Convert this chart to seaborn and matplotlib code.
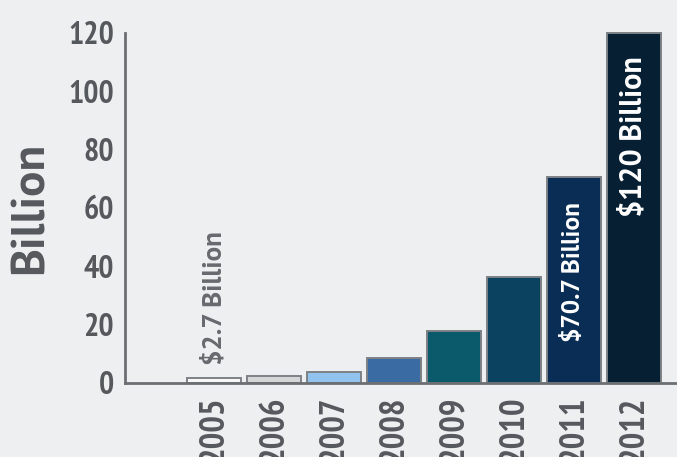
import matplotlib
matplotlib.use("Agg")
import matplotlib.pyplot as plt
import seaborn as sns
import pandas as pd

years = ["2005", "2006", "2007", "2008", "2009", "2010", "2011", "2012"]
values = [1.6, 2.5, 3.6, 8.5, 17.9, 36.3, 70.7, 120]
bar_colors = ["#f7f7f7", "#d4d6d8", "#92c2ee", "#3a6ba3", "#0b5a6c",
              "#0b4260", "#0a2d55", "#061f33"]
yticks = [0, 20, 40, 60, 80, 100, 120]
annotations = {"2005": "$2.7 Billion", "2011": "$70.7 Billion", "2012": "$120 Billion"}

sns.set_theme(style="white")
NARROW = ["PT Sans Narrow", "DejaVu Sans"]
WIDE = ["PT Sans", "DejaVu Sans"]
plt.rcParams["font.family"] = NARROW
TXT = "#55595e"
BG = "#eeeff0"

df = pd.DataFrame({"year": years, "value": values})

fig = plt.figure(figsize=(6.77, 4.57), dpi=100, facecolor=BG)
ax = fig.add_axes([125 / 677, 74 / 457, 552 / 677, 351 / 457])
ax.set_facecolor(BG)

sns.barplot(data=df, x="year", y="value", hue="year", palette=bar_colors,
            dodge=False, legend=False, width=0.9, edgecolor="#7d8185",
            linewidth=1.4, ax=ax, saturation=1)

ax.set_xlim(-1.48, 7.72)
ax.set_ylim(0, 120.3)
ax.set_yticks(yticks)
ax.set_yticklabels([str(t) for t in yticks], fontsize=23, fontweight="bold",
                   color=TXT, family=NARROW)
ax.set_xticks(range(len(years)))
ax.set_xticklabels(years, rotation=90, fontsize=25, fontweight="bold",
                   color=TXT, family=NARROW)
ax.tick_params(axis="y", direction="in", length=14, width=2, color="#6b6e72", pad=8)
ax.tick_params(axis="x", length=0, pad=9)

for s in ["top", "right"]:
    ax.spines[s].set_visible(False)
for s in ["left", "bottom"]:
    ax.spines[s].set_color("#6b6e72")
    ax.spines[s].set_linewidth(2)
ax.spines["left"].set_bounds(0, 120)

ax.set_xlabel("")
ax.set_ylabel("Billion", fontsize=34, fontweight="bold", color=TXT,
              family=WIDE, labelpad=12)

for i, y in enumerate(years):
    if y in annotations:
        if y == "2005":
            ax.text(i, 6.0, annotations[y], rotation=90, ha="center", va="bottom",
                    fontsize=19.5, fontweight="bold", color="#66696d", family=WIDE)
        elif y == "2011":
            ax.text(i, 14.0, annotations[y], rotation=90, ha="center", va="bottom",
                    fontsize=18.3, fontweight="bold", color="white", family=WIDE)
        else:
            ax.text(i, 112.1, annotations[y], rotation=90, ha="center", va="top",
                    fontsize=21.8, fontweight="bold", color="white", family=WIDE)

fig.savefig("out.png", dpi=100, facecolor=BG)
